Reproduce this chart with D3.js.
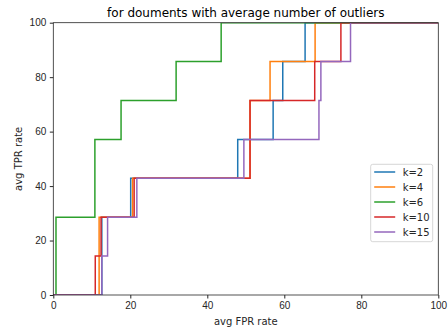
<!DOCTYPE html>
<html lang="en">
<head>
    <meta charset="UTF-8">
    <title>ROC curves for average number of outliers</title>
    <style>
        body, html {
            margin: 0;
            padding: 0;
            background: #ffffff;
        }
        svg {
            display: block;
            font-family: 'DejaVu Sans', sans-serif;
        }
        .tick text {
            font-size: 10px;
            fill: #262626;
        }
        .tick line {
            stroke: #262626;
        }
    </style>
</head>
<body>
    <div id="chart"></div>

    <script src="https://d3js.org/d3.v7.min.js"></script>
    <script>
        // Series labels and colours (matplotlib defaults)
        const labels = ["k=2", "k=4", "k=6", "k=10", "k=15"];
        const colors = ["#1f77b4", "#ff7f0e", "#2ca02c", "#d62728", "#9467bd"];

        // Step points: FPR where TPR jumps, and the new TPR level
        const fprK2 = [0, 12.6, 20.1, 47.9, 57.1, 59.6, 65.4, 100];
        const tprK2 = [0, 28.57, 42.86, 57.14, 71.43, 85.71, 100, 100];

        const fprK4 = [0, 11.9, 20.6, 51.1, 56.3, 68.0, 100];
        const tprK4 = [0, 28.57, 42.86, 71.43, 85.71, 100, 100];

        const fprK6 = [0, 0.7, 10.8, 17.6, 31.9, 43.6, 100];
        const tprK6 = [0, 28.57, 57.14, 71.43, 85.71, 100, 100];

        const fprK10 = [0, 10.9, 12.4, 21.0, 51.1, 67.9, 74.7, 100];
        const tprK10 = [0, 14.29, 28.57, 42.86, 71.43, 85.71, 100, 100];

        const fprK15 = [0, 12.6, 14.1, 21.7, 49.5, 69.0, 69.5, 77.2, 100];
        const tprK15 = [0, 14.29, 28.57, 42.86, 57.14, 71.43, 85.71, 100, 100];

        const tickValues = [0, 20, 40, 60, 80, 100];

        const series = [
            {fpr: fprK2, tpr: tprK2},
            {fpr: fprK4, tpr: tprK4},
            {fpr: fprK6, tpr: tprK6},
            {fpr: fprK10, tpr: tprK10},
            {fpr: fprK15, tpr: tprK15}
        ].map((s, i) => ({
            name: labels[i],
            color: colors[i],
            points: s.fpr.map((f, j) => [f, s.tpr[j]])
        }));

        const width = 448;
        const height = 329;
        const margin = {top: 22.7, right: 9.7, bottom: 34, left: 53.3};

        const svg = d3.select("#chart")
            .append("svg")
            .attr("width", width)
            .attr("height", height);

        const x = d3.scaleLinear()
            .domain([0, 100])
            .range([margin.left, width - margin.right]);

        const y = d3.scaleLinear()
            .domain([0, 100])
            .range([height - margin.bottom, margin.top]);

        // Lines first, clipped to the axes box, so the frame sits on top
        const line = d3.line()
            .x(d => x(d[0]))
            .y(d => y(d[1]))
            .curve(d3.curveStepAfter);

        const plot = svg.append("g");
        plot.append("clipPath")
            .attr("id", "clip")
            .append("rect")
            .attr("x", x(0))
            .attr("y", y(100))
            .attr("width", x(100) - x(0))
            .attr("height", y(0) - y(100));

        plot.selectAll("path.series")
            .data(series)
            .join("path")
            .attr("class", "series")
            .attr("clip-path", "url(#clip)")
            .attr("fill", "none")
            .attr("stroke", d => d.color)
            .attr("stroke-width", 1.5)
            .attr("d", d => line(d.points));

        // Axes
        const xAxis = svg.append("g")
            .attr("transform", `translate(0,${y(0)})`)
            .call(d3.axisBottom(x).tickValues(tickValues).tickSize(3.5).tickPadding(3.5));
        xAxis.select(".domain").remove();

        const yAxis = svg.append("g")
            .attr("transform", `translate(${x(0)},0)`)
            .call(d3.axisLeft(y).tickValues(tickValues).tickSize(3.5).tickPadding(3.5));
        yAxis.select(".domain").remove();

        // Frame
        svg.append("rect")
            .attr("x", x(0))
            .attr("y", y(100))
            .attr("width", x(100) - x(0))
            .attr("height", y(0) - y(100))
            .attr("fill", "none")
            .attr("stroke", "#262626")
            .attr("stroke-width", 0.8);

        // Title and axis labels
        svg.append("text")
            .attr("x", (x(0) + x(100)) / 2)
            .attr("y", 17)
            .attr("text-anchor", "middle")
            .attr("font-size", 12)
            .attr("fill", "#000")
            .text("for douments with average number of outliers");

        svg.append("text")
            .attr("x", (x(0) + x(100)) / 2)
            .attr("y", 325)
            .attr("text-anchor", "middle")
            .attr("font-size", 10)
            .attr("fill", "#262626")
            .text("avg FPR rate");

        svg.append("text")
            .attr("transform", `translate(22,${(y(0) + y(100)) / 2}) rotate(-90)`)
            .attr("text-anchor", "middle")
            .attr("font-size", 10)
            .attr("fill", "#262626")
            .text("avg TPR rate");

        // Legend
        const legend = svg.append("g")
            .attr("transform", "translate(370.7,164.3)");

        legend.append("rect")
            .attr("width", 62)
            .attr("height", 77.4)
            .attr("rx", 2)
            .attr("fill", "#ffffff")
            .attr("fill-opacity", 0.8)
            .attr("stroke", "#cccccc")
            .attr("stroke-width", 0.8);

        const items = legend.selectAll("g.item")
            .data(series)
            .join("g")
            .attr("class", "item")
            .attr("transform", (d, i) => `translate(0,${7.7 + i * 15})`);

        items.append("line")
            .attr("x1", 3.5)
            .attr("x2", 24.5)
            .attr("stroke", d => d.color)
            .attr("stroke-width", 1.5);

        items.append("text")
            .attr("x", 32)
            .attr("dy", "0.35em")
            .attr("font-size", 10)
            .attr("fill", "#262626")
            .text(d => d.name);
    </script>
</body>
</html>
